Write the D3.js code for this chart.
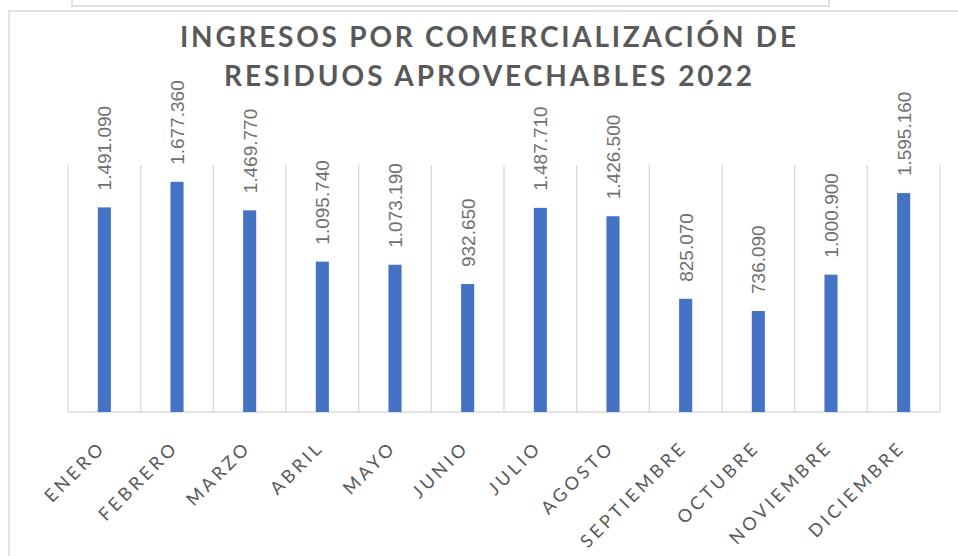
<!DOCTYPE html>
<html>
<head>
<meta charset="utf-8">
<script src="https://cdn.jsdelivr.net/npm/d3@7"></script>
<style>
  body { margin: 0; background: #fff; }
  svg { display: block; }
</style>
</head>
<body>
<script>
let months = ["ENERO", "FEBRERO", "MARZO", "ABRIL", "MAYO", "JUNIO", "JULIO",
    "AGOSTO", "SEPTIEMBRE", "OCTUBRE", "NOVIEMBRE", "DICIEMBRE"];
let ingresos = [1491090, 1677360, 1469770, 1095740, 1073190, 932650, 1487710,
    1426500, 825070, 736090, 1000900, 1595160];
let titleLines = ["INGRESOS POR COMERCIALIZACIÓN DE", "RESIDUOS APROVECHABLES 2022"];
let yMax = 1800000;

let size = {width: 958, height: 556};
let plot = {left: 68, right: 940, top: 165, bottom: 412};

let data = months.map((m, i) => ({name: m, value: ingresos[i]}));

let locale = d3.formatLocale({decimal: ",", thousands: ".", grouping: [3], currency: ["$", ""]});
let fmt = locale.format(",d");

let svg = d3.select("body").append("svg")
    .attr("width", size.width)
    .attr("height", size.height);

// frame of the chart and the box cut off above it
svg.append("rect")
    .attr("x", 9).attr("y", 11)
    .attr("width", 980).attr("height", 600)
    .attr("fill", "none").attr("stroke", "#d9d9d9").attr("stroke-width", 1.5);
svg.append("rect")
    .attr("x", 72).attr("y", -20)
    .attr("width", 757).attr("height", 26)
    .attr("fill", "none").attr("stroke", "#d9d9d9").attr("stroke-width", 1.5);

let x = d3.scaleBand()
    .domain(months)
    .range([plot.left, plot.right])
    .padding(0);

let y = d3.scaleLinear()
    .domain([0, yMax])
    .range([plot.bottom, plot.top]);

let barW = x.bandwidth() * 0.18;

// vertical grid lines at category boundaries
let bounds = months.map(m => x(m)).concat([x.range()[1]]);
svg.append("g")
    .selectAll("line")
    .data(bounds)
    .join("line")
    .attr("x1", d => d).attr("x2", d => d)
    .attr("y1", y(yMax)).attr("y2", y(0))
    .attr("stroke", "#d9d9d9").attr("stroke-width", 1.3);

svg.append("line")
    .attr("x1", plot.left).attr("x2", plot.right)
    .attr("y1", y(0)).attr("y2", y(0))
    .attr("stroke", "#d9d9d9").attr("stroke-width", 1.5);

svg.append("g")
    .selectAll("rect")
    .data(data)
    .join("rect")
    .attr("x", d => x(d.name) + (x.bandwidth() - barW) / 2)
    .attr("y", d => y(d.value))
    .attr("width", barW)
    .attr("height", d => y(0) - y(d.value))
    .attr("fill", "#4472c4");

// value labels, vertical
svg.append("g")
    .selectAll("text")
    .data(data)
    .join("text")
    .attr("transform", d => `translate(${x(d.name) + x.bandwidth() / 2},${y(d.value) - 17}) rotate(-90)`)
    .attr("dy", "0.36em")
    .attr("font-family", "'Liberation Sans', Arial, sans-serif")
    .attr("font-size", 19)
    .attr("fill", "#707070")
    .text(d => fmt(d.value));

// category axis
let xAxis = svg.append("g")
    .attr("transform", `translate(0,${plot.bottom})`)
    .call(d3.axisBottom(x).tickSize(0));
xAxis.select(".domain").remove();
xAxis.selectAll("text")
    .attr("font-family", "Lato, sans-serif")
    .attr("font-size", 18)
    .attr("letter-spacing", "3.5px")
    .attr("fill", "#595959")
    .attr("text-anchor", "end")
    .attr("y", 0)
    .attr("dy", "0.75em")
    .attr("transform", `translate(-7,27) rotate(-45)`);

// title
svg.append("g")
    .selectAll("text")
    .data(titleLines)
    .join("text")
    .attr("x", 488)
    .attr("y", (d, i) => 46.5 + i * 39.5)
    .attr("text-anchor", "middle")
    .attr("font-family", "Lato, sans-serif")
    .attr("font-weight", "bold")
    .attr("font-size", 28)
    .attr("fill", "#595959")
    .attr("textLength", (d, i) => i === 0 ? 616 : 528)
    .attr("lengthAdjust", "spacing")
    .text(d => d);
</script>
</body>
</html>
